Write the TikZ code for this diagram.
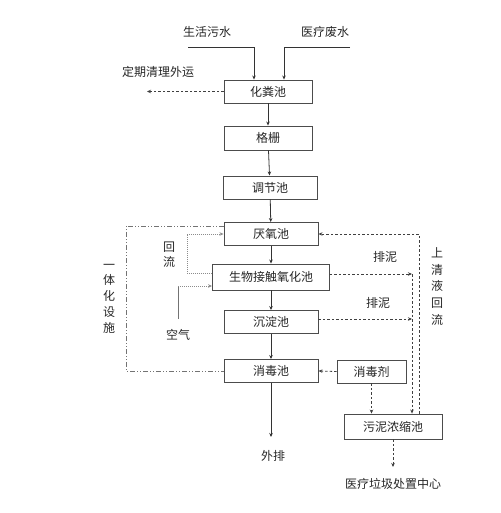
\documentclass[tikz,border=0pt]{standalone}
\usepackage{fontspec}
\setmainfont{Noto Sans CJK SC}
\usetikzlibrary{arrows.meta}
\begin{document}
\begin{tikzpicture}[x=1pt,y=-1pt,
  txt/.style={font=\fontsize{12}{14}\selectfont, text=black!85, inner sep=0pt},
  box/.style={txt, draw=black!70, line width=0.9pt, fill=white, minimum height=23pt},
  vtxt/.style={txt, align=center},
  tip/.style={-{Stealth[length=4pt,width=3.5pt]}},
  flow/.style={draw=black!80, line width=0.8pt, tip},
  dflow/.style={draw=black!75, line width=0.8pt, dash pattern=on 2.5pt off 2pt, tip},
  dline/.style={draw=black!75, line width=0.8pt, dash pattern=on 2.5pt off 2pt},
  dotflow/.style={draw=black!45, line width=0.9pt, dash pattern=on 1pt off 1pt, tip},
  dashdot/.style={draw=black!55, line width=0.8pt, dash pattern=on 5pt off 2pt on 1pt off 2pt on 1pt off 2pt},
]
\useasboundingbox (0,0) rectangle (500,513);

% main column
\node[box, minimum width=88pt] (hf) at (268,91.5) {化粪池};
\node[box, minimum width=88pt, minimum height=24pt] (gs) at (268,138) {格栅};
\node[box, minimum width=94pt] (tj) at (270,187.5) {调节池};
\node[box, minimum width=94pt] (yy) at (271,234) {厌氧池};
\node[box, minimum width=117pt, minimum height=26pt] (sw) at (271,277) {生物接触氧化池};
\node[box, minimum width=94pt] (cd) at (271,322) {沉淀池};
\node[box, minimum width=94pt] (xd) at (271,371) {消毒池};
\node[box, minimum width=69pt] (xdj) at (371.5,371.5) {消毒剂};
\node[box, minimum width=98pt, minimum height=25pt] (wn) at (393,426.5) {污泥浓缩池};

% labels
\node[txt] (shws) at (207,32) {生活污水};
\node[txt] (ylfs) at (325,32) {医疗废水};
\node[txt] (dq) at (158,72) {定期清理外运};
\node[txt] (wp) at (273,456) {外排};
\node[txt] (yl) at (393,484) {医疗垃圾处置中心};
\node[txt] (pn1) at (385,257) {排泥};
\node[txt] (pn2) at (378,303) {排泥};
\node[txt] (kq) at (178,335) {空气};
\node[vtxt, font=\fontsize{12}{15}\selectfont] (hl) at (169,254.5) {回\\流};
\node[vtxt, font=\fontsize{12}{15.8}\selectfont] (yth) at (109,298.5) {一\\体\\化\\设\\施};
\node[vtxt, font=\fontsize{12}{16.8}\selectfont] (sq) at (437,286.5) {上\\清\\液\\回\\流};

% coordinates
\coordinate (s1) at (188,47);
\coordinate (s2) at (350,47);
\coordinate (c1) at (147,91.5);
\coordinate (wpend) at (271,437);
\coordinate (ylend) at (393,467);
\coordinate (lt) at (126,226);
\coordinate (hlc) at (187,273);
\coordinate (kq1) at (178,319);
\coordinate (kq2) at (178,286);
\coordinate (p1) at (412,274);
\coordinate (p2) at (412,319);

% inflows
\draw[flow] (s1) -| ([xshift=-14pt]hf.north);
\draw[flow] (s2) -| ([xshift=16pt]hf.north);
\draw[dflow] (hf.west) -- (c1);

% main flow
\draw[flow] (hf) -- (gs);
\draw[flow] (gs) -- (tj);
\draw[flow] (tj) -- (yy);
\draw[flow] (yy) -- (sw);
\draw[flow] (sw) -- (cd);
\draw[flow] (cd) -- (xd);
\draw[flow] (xd.south) -- (wpend);

% integrated facility loop
\draw[dashdot] ([yshift=8pt]yy.west) -- (lt) |- (xd.west);

% return flow
\draw[dotflow] ([yshift=4pt]sw.west) -- (hlc) |- (yy.west);
% air
\draw[draw=black!55, line width=0.9pt] (kq1) -- (kq2);
\draw[dotflow] (kq2) -- ([yshift=-9pt]sw.west);

% sludge lines
\draw[dflow] ([xshift=26pt]wn.north) |- (yy.east);
\draw[dflow] ([yshift=3pt]sw.east) -- (p1);
\draw[dflow] ([yshift=3pt]cd.east) -- (p2);
\draw[dflow] (p1) -- ([xshift=19pt]wn.north);
\draw[dflow] (xdj.west) -- (xd.east);
\draw[dflow] (xdj.south) -- (xdj.south |- wn.north);
\draw[dflow] (wn.south) -- (ylend);
\end{tikzpicture}
\end{document}
